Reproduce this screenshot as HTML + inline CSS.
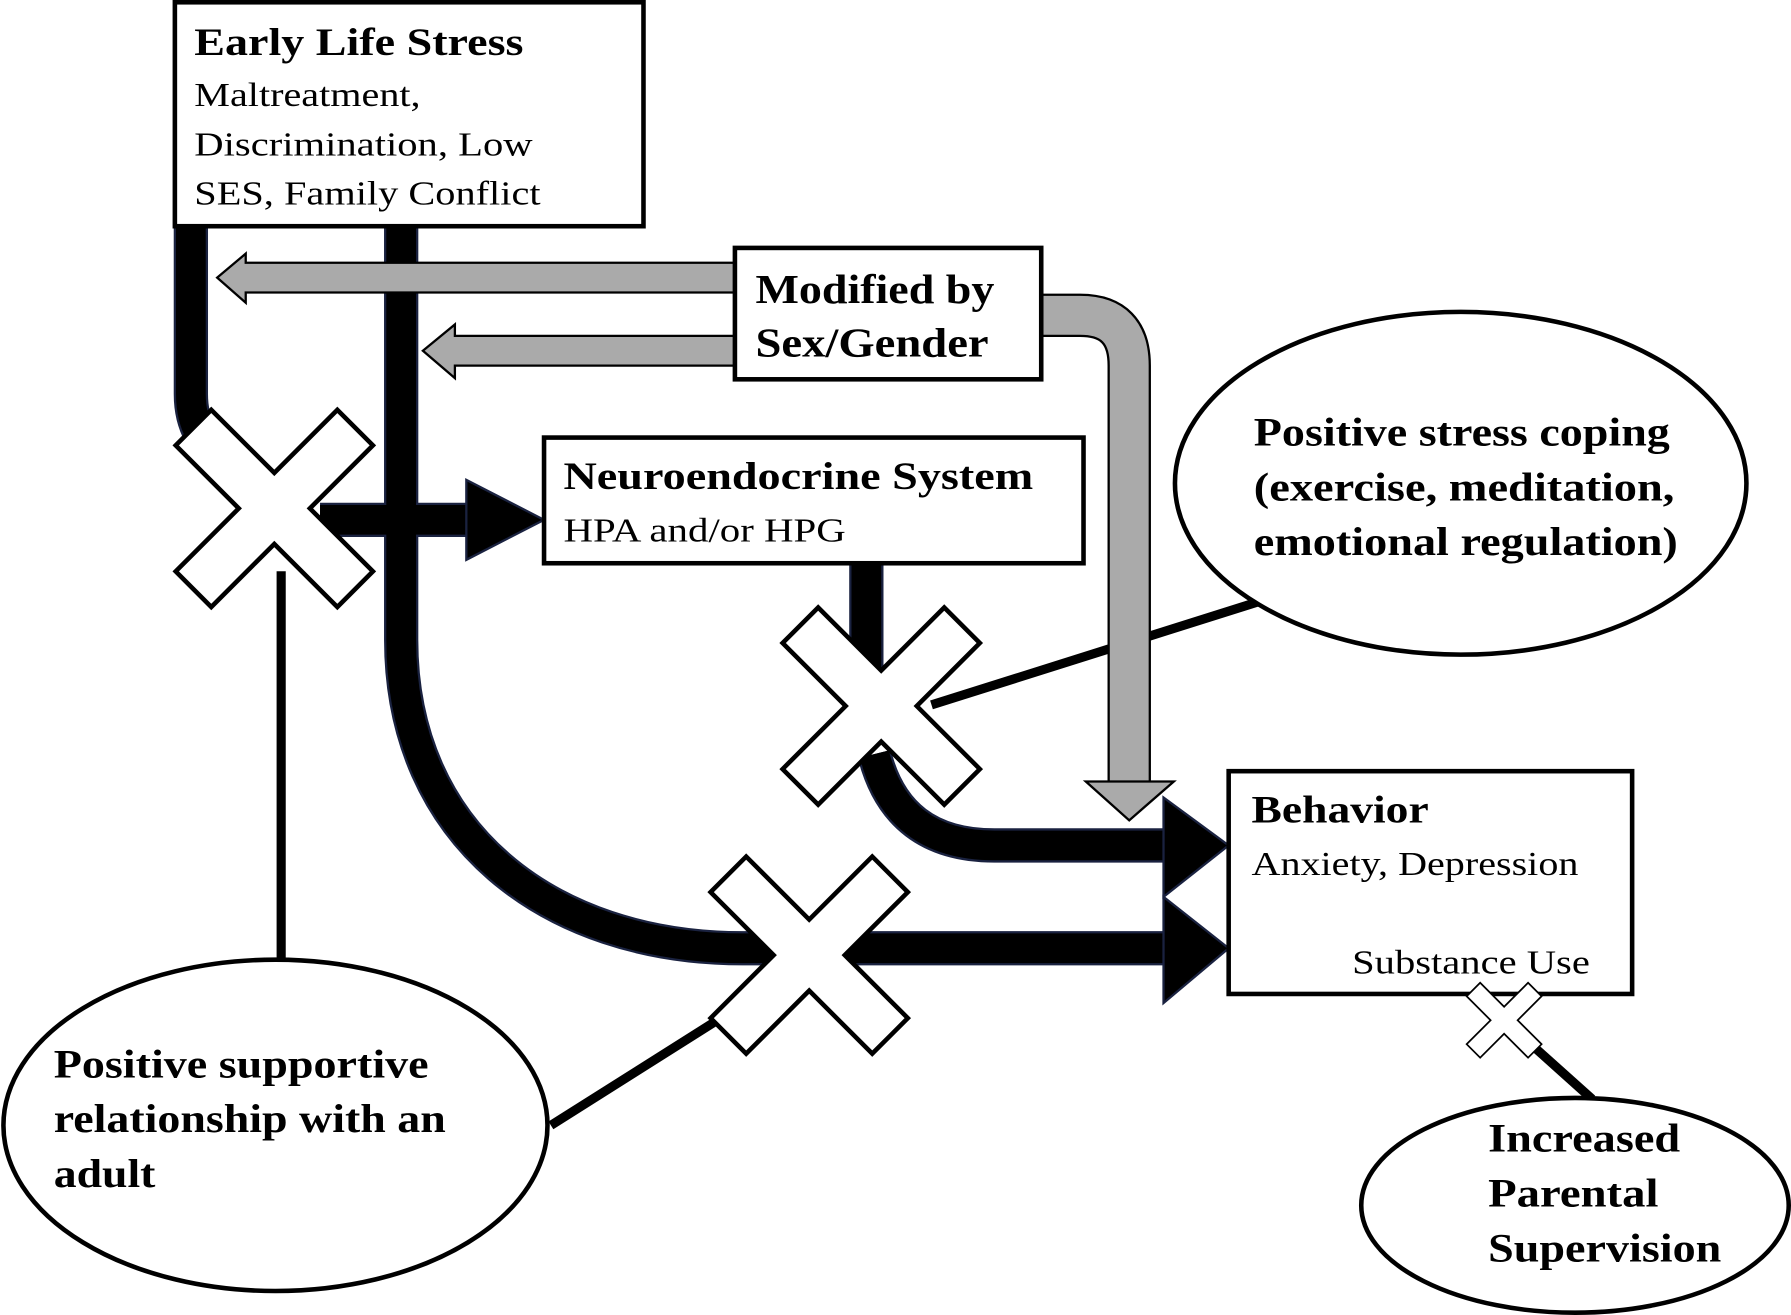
<!DOCTYPE html>
<html><head><meta charset="utf-8"><style>
html,body{margin:0;padding:0;background:#fff}
svg{display:block}
text{font-family:"Liberation Serif",serif;fill:#000}
.b{font-weight:bold}
</style></head><body>
<svg width="1791" height="1315" viewBox="0 0 1567 1151" preserveAspectRatio="none" xmlns="http://www.w3.org/2000/svg">
<defs>
<polygon id="x" points="-22,-100 22,-100 22,-22 100,-22 100,22 22,22 22,100 -22,100 -22,22 -100,22 -100,-22 -22,-22" transform="rotate(45)" fill="#fff" stroke="#000" stroke-width="4"/>
</defs>
<g fill="none" stroke="#1a2240" stroke-width="30">
<path d="M167,198 L167,345 Q167,385 200,405"/>
<path d="M351,198 L351,560 C351,730 480,830 650,830 L1020,830"/>
<path d="M280,455 L410,455"/>
<path d="M758,493 L758,585"/>
<path d="M765,660 Q785,740 870,740 L1020,740"/>
</g>
<g fill="none" stroke="#000" stroke-width="26">
<path d="M167,198 L167,345 Q167,385 200,405"/>
<path d="M351,198 L351,560 C351,730 480,830 650,830 L1020,830"/>
<path d="M280,455 L410,455"/>
<path d="M758,493 L758,585"/>
<path d="M765,660 Q785,740 870,740 L1020,740"/>
</g>
<polygon points="408,420 408,490 476,455" fill="#000" stroke="#1a2240" stroke-width="2"/>
<polygon points="1018,698 1018,785 1075,740" fill="#000" stroke="#1a2240" stroke-width="2"/>
<polygon points="1018,785 1018,878 1075,830" fill="#000" stroke="#1a2240" stroke-width="2"/>
<g stroke="#000" stroke-width="8">
<line x1="246" y1="500" x2="246" y2="840"/>
<line x1="815" y1="617" x2="1100" y2="527"/>
<line x1="482" y1="985" x2="645" y2="882"/>
<line x1="1335" y1="910" x2="1393" y2="962"/>
</g>
<polygon points="643,230 215,230 215,222 190,243 215,265 215,256 643,256" fill="#aaa" stroke="#000" stroke-width="2"/>
<polygon points="643,294 398,294 398,284 370,307 398,331 398,320 643,320" fill="#aaa" stroke="#000" stroke-width="2"/>
<path d="M911,276 L945,276 Q988,276 988,320 L988,688" fill="none" stroke="#000" stroke-width="38"/>
<path d="M911,276 L945,276 Q988,276 988,320 L988,690" fill="none" stroke="#aaa" stroke-width="34"/>
<polygon points="950,684 1027,684 988,718" fill="#aaa" stroke="#000" stroke-width="2"/>
<use href="#x" transform="translate(240,445)"/>
<use href="#x" transform="translate(771,618)"/>
<use href="#x" transform="translate(708,836)"/>
<g fill="#fff" stroke="#000" stroke-width="4">
<rect x="153" y="2" width="410" height="196"/>
<rect x="643" y="217" width="268" height="115"/>
<rect x="476" y="383" width="472" height="110"/>
<rect x="1075" y="675" width="353" height="195"/>
<ellipse cx="1278" cy="423" rx="250" ry="150"/>
<ellipse cx="241" cy="985" rx="238" ry="145"/>
<ellipse cx="1378" cy="1055" rx="187" ry="94"/>
</g>
<use href="#x" transform="translate(1316,893) scale(0.38)"/>
<g lengthAdjust="spacingAndGlyphs">
<text x="170" y="48" class="b" font-size="34" textLength="288" lengthAdjust="spacingAndGlyphs">Early Life Stress</text>
<text x="170" y="93" font-size="30" textLength="198" lengthAdjust="spacingAndGlyphs">Maltreatment,</text>
<text x="170" y="136" font-size="30" textLength="296" lengthAdjust="spacingAndGlyphs">Discrimination, Low</text>
<text x="170" y="179" font-size="30" textLength="303" lengthAdjust="spacingAndGlyphs">SES, Family Conflict</text>
<text x="661" y="265" class="b" font-size="36" textLength="209" lengthAdjust="spacingAndGlyphs">Modified by</text>
<text x="661" y="312" class="b" font-size="36" textLength="204" lengthAdjust="spacingAndGlyphs">Sex/Gender</text>
<text x="493" y="428" class="b" font-size="34" textLength="411" lengthAdjust="spacingAndGlyphs">Neuroendocrine System</text>
<text x="493" y="474" font-size="30" textLength="247" lengthAdjust="spacingAndGlyphs">HPA and/or HPG</text>
<text x="1095" y="720" class="b" font-size="34" textLength="155" lengthAdjust="spacingAndGlyphs">Behavior</text>
<text x="1095" y="766" font-size="30" textLength="286" lengthAdjust="spacingAndGlyphs">Anxiety, Depression</text>
<text x="1183" y="852" font-size="30" textLength="208" lengthAdjust="spacingAndGlyphs">Substance Use</text>
<text x="1097" y="390" class="b" font-size="35" textLength="364" lengthAdjust="spacingAndGlyphs">Positive stress coping</text>
<text x="1097" y="438" class="b" font-size="35" textLength="368" lengthAdjust="spacingAndGlyphs">(exercise, meditation,</text>
<text x="1097" y="486" class="b" font-size="35" textLength="371" lengthAdjust="spacingAndGlyphs">emotional regulation)</text>
<text x="47" y="943" class="b" font-size="35" textLength="328" lengthAdjust="spacingAndGlyphs">Positive supportive</text>
<text x="47" y="991" class="b" font-size="35" textLength="343" lengthAdjust="spacingAndGlyphs">relationship with an</text>
<text x="47" y="1039" class="b" font-size="35" textLength="89" lengthAdjust="spacingAndGlyphs">adult</text>
<text x="1302" y="1008" class="b" font-size="35" textLength="168" lengthAdjust="spacingAndGlyphs">Increased</text>
<text x="1302" y="1056" class="b" font-size="35" textLength="149" lengthAdjust="spacingAndGlyphs">Parental</text>
<text x="1302" y="1104" class="b" font-size="35" textLength="204" lengthAdjust="spacingAndGlyphs">Supervision</text>
</g>
</svg>
</body></html>
